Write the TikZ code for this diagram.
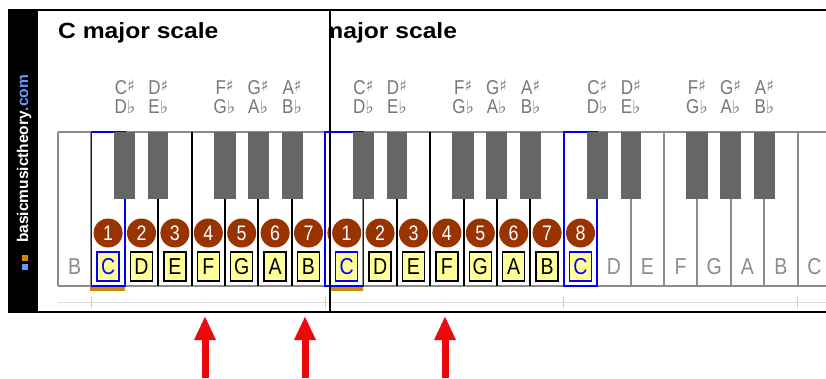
\documentclass[tikz,border=0pt]{standalone}
\usepackage{fontspec}
\usepackage{graphicx}
\setmainfont{Liberation Sans}
\newfontfamily\nfont[FakeStretch=0.85]{Liberation Sans}
\newfontfamily\tfont[FakeStretch=1.12]{Liberation Sans}
\newfontfamily\symfont{DejaVu Sans}
\usetikzlibrary{arrows.meta}
\definecolor{keygray}{HTML}{666666}
\definecolor{linegray}{HTML}{8C8C8C}
\definecolor{labgray}{HTML}{777777}
\definecolor{numred}{RGB}{153,51,0}
\definecolor{noteyel}{HTML}{FFFF99}
\definecolor{barorange}{RGB}{204,136,0}
\definecolor{comblue}{RGB}{102,153,255}
\definecolor{rulegray}{HTML}{DDDDDD}
\definecolor{tickgray}{HTML}{CCCCCC}
\definecolor{arrowred}{RGB}{235,10,10}
\newcommand\mysharp{{\symfont\fontsize{16}{16}\selectfont\smash{\raisebox{2.5pt}{♯}}}}
\newcommand\myflat{{\symfont\fontsize{18}{18}\selectfont\smash{♭}}}
\tikzset{
  wkline/.style={line width=2pt, draw=linegray},
  hiline/.style={line width=2pt, draw=black},
  cline/.style={line width=1.6pt, draw=blue},
  bkey/.style={fill=keygray, draw=none},
  acclabel/.style={font=\nfont\fontsize{20}{20}\selectfont, text=labgray, anchor=base, inner sep=0pt},
  numcirc/.style={circle, fill=numred, minimum size=29pt, inner sep=0pt, text=white, font=\nfont\fontsize{21}{21}\selectfont},
  notebox/.style={draw=black, line width=1.5pt, fill=noteyel, minimum width=22pt, minimum height=29pt, inner sep=0pt, font=\nfont\fontsize{23}{23}\selectfont},
  cbox/.style={notebox, draw=blue, text=blue},
  greynote/.style={text=linegray, inner sep=0pt, font=\nfont\fontsize{23}{23}\selectfont},
  titletext/.style={anchor=base west, inner sep=0pt, font=\tfont\bfseries\fontsize{22}{22}\selectfont},
  rulerline/.style={draw=rulegray, line width=1.5pt},
  rulertick/.style={draw=tickgray, line width=1pt},
  border/.style={draw=black, line width=2pt},
  arrowline/.style={draw=arrowred, line width=7pt, -{Triangle[width=20pt,length=24pt]}},
}
\newcommand\drawpanel[2]{%
  % #1 = horizontal offset, #2 = name suffix
  \node[titletext] (title#2) at (58+#1,38) {C major scale};
  \fill[white] (58+#1,132) rectangle (58+#1+16*33.4,286);
  \foreach \k in {0,...,16} {\draw[wkline] (58+#1+\k*33.4,132) -- (58+#1+\k*33.4,286);}
  \draw[wkline] (58+#1,132) -- (58+#1+16*33.4,132);
  \draw[wkline] (58+#1,286) -- (58+#1+16*33.4,286);
  \foreach \k in {3,...,7} {\draw[hiline] (58+#1+\k*33.4,132) -- (58+#1+\k*33.4,286);}
  \foreach \k in {1,8} {\draw[cline] (58+#1+\k*33.4,132) rectangle (58+#1+\k*33.4+33.4,286);}
  \foreach \o in {1,8} {
    \pgfmathsetmacro\cl{58+#1+\o*33.4}
    \pgfmathsetmacro\fl{\cl+100.2}
    \fill[bkey] (\cl+23,132) rectangle (\cl+44,199);
    \fill[bkey] (\cl+57,132) rectangle (\cl+77,199);
    \fill[bkey] (\fl+22,132) rectangle (\fl+44,199);
    \fill[bkey] (\fl+56,132) rectangle (\fl+77,199);
    \fill[bkey] (\fl+90,132) rectangle (\fl+111,199);
    \node[acclabel] (cs#2\o) at (\cl+33.5,94) {C\mysharp};
    \node[acclabel] (db#2\o) at (\cl+33.5,113) {D\myflat};
    \node[acclabel] (ds#2\o) at (\cl+67,94) {D\mysharp};
    \node[acclabel] (eb#2\o) at (\cl+67,113) {E\myflat};
    \node[acclabel] (fs#2\o) at (\fl+33,94) {F\mysharp};
    \node[acclabel] (gb#2\o) at (\fl+33,113) {G\myflat};
    \node[acclabel] (gs#2\o) at (\fl+66.5,94) {G\mysharp};
    \node[acclabel] (ab#2\o) at (\fl+66.5,113) {A\myflat};
    \node[acclabel] (as#2\o) at (\fl+100.5,94) {A\mysharp};
    \node[acclabel] (bb#2\o) at (\fl+100.5,113) {B\myflat};
  }
  \fill[barorange] (58+#1+33.4-1,287) rectangle (58+#1+66.8,290.5);
  \foreach \k in {1,...,8} {
    \node[numcirc] (num#2\k) at (58+#1+\k*33.4+16.7,233) {\k};
  }
  \foreach \k/\l in {2/D,3/E,4/F,5/G,6/A,7/B} {
    \node[notebox] (note#2\k) at (58+#1+\k*33.4+16.7,266.5) {\l};
  }
  \foreach \k in {1,8} {\node[cbox] (note#2\k) at (58+#1+\k*33.4+16.7,266.5) {C};}
  \foreach \k/\l in {0/B,9/D,10/E,11/F,12/G,13/A,14/B,15/C} {
    \node[greynote] (note#2\k) at (58+#1+\k*33.4+16.7,266.5) {\l};
  }
  \draw[rulerline] (58+#1,302.5) -- (58+#1+17*33.4,302.5);
  \foreach \k in {1,8,15} {\draw[rulertick] (58+#1+\k*33.4,297) -- (58+#1+\k*33.4,308);}
}
\begin{document}
\begin{tikzpicture}[x=1pt,y=-1pt]
  \useasboundingbox[fill=white] (0,0) rectangle (826,378);
  % left panel
  \begin{scope}
    \clip (8,10) rectangle (330,312);
    \drawpanel{0}{L}
  \end{scope}
  % right panel
  \begin{scope}
    \clip (330,10) rectangle (826,312);
    \drawpanel{238.6}{R}
  \end{scope}
  % sidebar
  \fill[black] (8,10) rectangle (38,312);
  \node[rotate=90, anchor=base west, inner sep=0pt, text=white,
        font=\bfseries\fontsize{15.5}{15.5}\selectfont] (brand) at (28,243)
        {basicmusictheory\textcolor{comblue}{.com}};
  \fill[barorange] (22,255) rectangle (28,261);
  \fill[comblue] (22,264) rectangle (28,270);
  % borders
  \draw[border] (8,10) -- (826,10);
  \draw[border] (8,312) -- (826,312);
  \draw[border] (330,10) -- (330,312);
  % arrows
  \foreach \n/\x in {1/205,2/305,3/445} {
    \coordinate (as\n) at (\x,378);
    \coordinate (ae\n) at (\x,316);
    \draw[arrowline] (as\n) -- (ae\n);
  }
\end{tikzpicture}
\end{document}
